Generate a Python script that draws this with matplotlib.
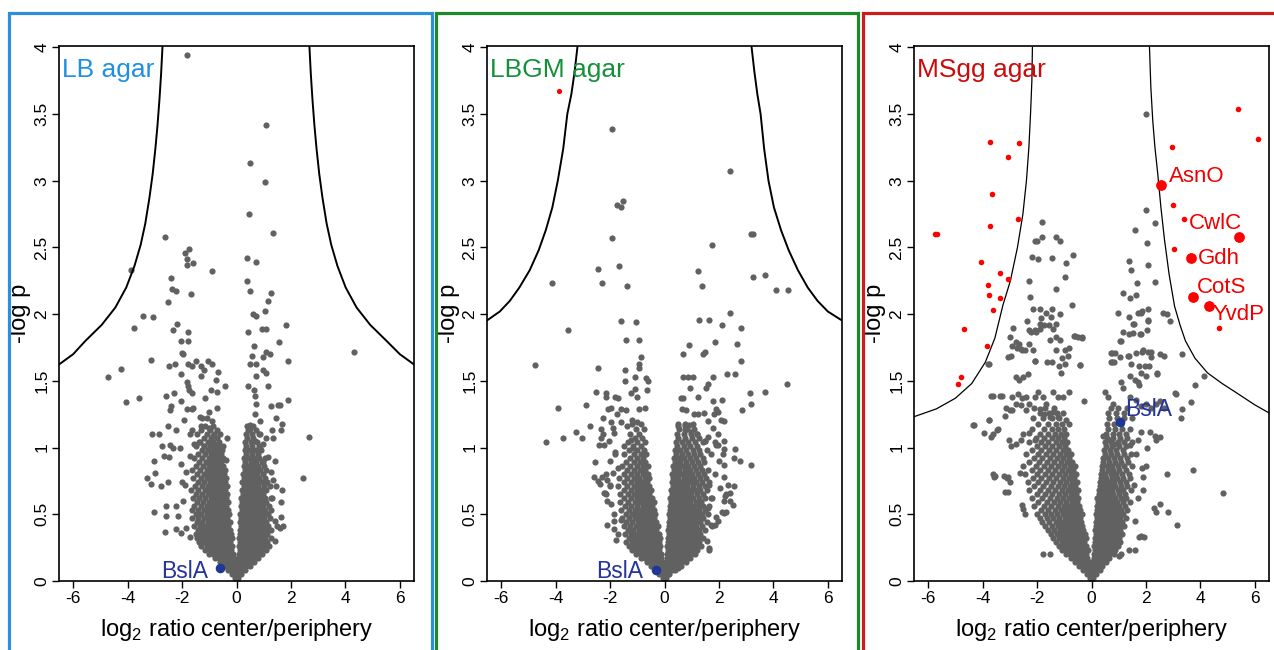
import numpy as np
import matplotlib
matplotlib.use("Agg")
import matplotlib.pyplot as plt
from matplotlib.patches import Rectangle

plt.rcParams['font.family'] = ['Liberation Sans', 'DejaVu Sans']
plt.rcParams['mathtext.fontset'] = 'custom'
plt.rcParams['mathtext.rm'] = 'Liberation Sans'
plt.rcParams['axes.unicode_minus'] = False

## panel settings
titles = ['LB agar', 'LBGM agar', 'MSgg agar']
title_colors = ['#1f8fe0', '#15903a', '#cc0a0a']
border_colors = ['#2e8ed8', '#1c8a2a', '#cc1b1b']

x_ticks = [-6, -4, -2, 0, 2, 4, 6]
y_ticks = [0, 0.5, 1, 1.5, 2, 2.5, 3, 3.5, 4]
y_tick_labels = ['0', '0.5', '1', '1.5', '2', '2.5', '3', '3.5', '4']

## significance curves (x, -log p)
lb_curve_y = [4.00, 3.80, 3.61, 3.42, 3.24, 3.05, 2.87, 2.68, 2.52, 2.36, 2.20, 2.05, 1.92, 1.80, 1.70, 1.62]
lb_left_x = [-2.72, -2.77, -2.83, -2.90, -2.98, -3.08, -3.20, -3.35, -3.52, -3.75, -4.05, -4.45, -4.95, -5.55, -6.00, -6.54]
lb_right_x = [2.68, 2.73, 2.79, 2.86, 2.94, 3.04, 3.16, 3.31, 3.48, 3.71, 4.01, 4.41, 4.91, 5.51, 6.00, 6.54]

lbgm_curve_y = [4.00, 3.82, 3.65, 3.50, 3.24, 3.00, 2.80, 2.63, 2.48, 2.33, 2.20, 2.10, 2.02, 1.95]
lbgm_left_x = [-3.20, -3.30, -3.42, -3.57, -3.72, -3.92, -4.12, -4.36, -4.62, -4.95, -5.33, -5.68, -6.05, -6.54]
lbgm_right_x = [3.20, 3.30, 3.41, 3.53, 3.66, 3.82, 4.02, 4.28, 4.56, 4.90, 5.26, 5.62, 6.00, 6.54]

msgg_left_x = [-2.17, -2.19, -2.24, -2.30, -2.39, -2.52, -2.72, -2.98, -3.25, -3.55, -3.90, -4.40, -5.00, -5.70, -6.54]
msgg_left_y = [4.00, 3.75, 3.50, 3.25, 3.00, 2.75, 2.50, 2.25, 2.07, 1.82, 1.64, 1.48, 1.37, 1.29, 1.23]
msgg_right_x = [2.13, 2.18, 2.25, 2.33, 2.43, 2.55, 2.68, 2.85, 3.05, 3.25, 3.45, 3.80, 4.26, 4.80, 5.33, 6.00, 6.52]
msgg_right_y = [4.00, 3.70, 3.45, 3.25, 3.06, 2.80, 2.56, 2.30, 2.06, 1.92, 1.80, 1.67, 1.56, 1.48, 1.41, 1.32, 1.26]

## LB agar proteins: scattered ones
lb_pts = [(-1.81,3.94),(1.09,3.42),(0.50,3.13),(1.05,2.99),(0.45,2.75),(1.34,2.61),(-2.62,2.58),(-1.74,2.49),
    (-1.91,2.46),(-1.81,2.41),(-1.81,2.37),(-1.58,2.38),(-0.89,2.32),(-3.87,2.33),(0.40,2.42),(0.71,2.39),
    (-2.41,2.27),(0.40,2.25),(-2.36,2.19),(-2.22,2.17),(-1.67,2.15),(0.50,2.17),(1.25,2.16),(1.16,2.10),
    (-2.52,2.09),(1.05,2.02),(0.60,2.00),(0.70,1.99),(-3.42,1.99),(-3.08,1.98),(-2.17,1.93),(1.80,1.92),
    (-3.76,1.90),(-2.32,1.88),(-1.79,1.87),(0.42,1.87),(0.92,1.89),(1.07,1.89),(4.30,1.72),(-2.05,1.80),
    (-1.79,1.80),(1.56,1.79),(0.63,1.76),(-2.02,1.71),(-1.97,1.70),(0.56,1.69),(1.09,1.72),(1.24,1.70),
    (0.97,1.68),(-3.13,1.66),(1.90,1.65),(-2.27,1.63),(-1.78,1.63),(-1.48,1.65),(-1.05,1.65),(-0.89,1.63),
    (0.50,1.63),(0.71,1.63),(-2.47,1.61),(-1.63,1.61),(-1.31,1.61),(-4.23,1.59),(-1.20,1.58),(-0.69,1.57),
    (0.97,1.58),(1.09,1.56),(-4.72,1.53),(-2.03,1.55),(-1.32,1.54),(0.70,1.54),(-1.81,1.49),(-0.75,1.51),
    (-1.78,1.46),(-0.43,1.46),(0.43,1.46),(1.16,1.46),(-1.75,1.43),(-0.92,1.43),(-0.71,1.42),(0.64,1.43),
    (-2.28,1.41),(-1.65,1.41),(0.69,1.39),(-2.58,1.39),(-1.16,1.37),(-4.07,1.34),(-3.59,1.37),(-2.03,1.35),
    (0.72,1.33),(1.91,1.36),(-2.39,1.31),(-1.58,1.30),(-0.71,1.30),(1.27,1.31),(1.53,1.32),(1.61,1.32),
    (-2.44,1.28),(-1.82,1.29),(-1.65,1.29),(-1.00,1.27),(0.67,1.25),(-1.35,1.23),(-1.27,1.22),(-1.92,1.21),
    (-1.10,1.22),(-0.89,1.20),(0.85,1.20),(1.46,1.22),(1.67,1.18),(-2.50,1.16),(-1.31,1.16),(-1.00,1.15),
    (0.48,1.17),(0.50,1.14),(-2.22,1.13),(-1.62,1.13),(1.30,1.13),(1.65,1.13),(-3.10,1.10),(-2.83,1.10),
    (-1.72,1.10),(-0.85,1.09),(0.82,1.10),(1.35,1.07),(1.09,1.07),(-0.34,1.07),(2.66,1.08),(-2.46,1.02),
    (-1.55,1.03),(-1.36,1.04),(-1.21,1.01),(-0.85,1.03),(-0.68,1.03),(-0.49,1.01),(0.67,1.05),(0.97,1.03),
    (-2.74,1.01),(-2.35,1.00),(-2.09,1.00),(0.36,0.99),(0.61,0.98),(0.85,0.99),(-2.68,0.94),(-2.48,0.93),
    (-1.72,0.94),(1.16,0.93),(1.40,0.90),(-3.04,0.90),(-0.38,0.91),(0.97,0.89),(-2.98,0.81),(-3.27,0.77),
    (2.44,0.77),(-3.13,0.73),(-2.78,0.71),(-2.52,0.74),(-2.00,0.74),(-1.90,0.72),(1.34,0.76),(1.44,0.71),
    (1.68,0.68),(1.64,0.59),(-3.04,0.52),(-2.60,0.56),(-2.21,0.56),(-2.60,0.49),(-2.15,0.49),(-2.61,0.37),
    (-2.22,0.39),(-2.03,0.36),(-1.87,0.40),(1.61,0.40),(1.70,0.41),(1.40,0.45),(1.62,0.48),(-1.70,0.33),
    (-1.40,0.32),(1.40,0.30),(1.50,0.41),(-1.95,0.60),(-1.85,0.82),(-2.05,0.88),(1.30,0.62),(1.25,0.82)]

## LB agar proteins: dense core, one row per -log p level
lb_rows = [
    (0.02, [-0.06, 0.06]),
    (0.05, [-0.18, -0.06, 0.06, 0.18]),
    (0.08, [-0.3, -0.18, -0.06, 0.06, 0.18, 0.3]),
    (0.11, [-0.42, -0.28, -0.15, -0.02, 0.1, 0.22, 0.35, 0.48]),
    (0.14, [-0.6, -0.46, -0.32, -0.18, -0.05, 0.08, 0.22, 0.36, 0.5, 0.64]),
    (0.17, [-0.8, -0.65, -0.5, -0.36, -0.22, -0.08, 0.08, 0.22, 0.36, 0.5, 0.65, 0.8]),
    (0.20, [-1.0, -0.85, -0.7, -0.55, -0.4, -0.26, -0.12, 0.1, 0.24, 0.38, 0.52, 0.66, 0.8, 0.95]),
    (0.23, [-1.15, -0.98, -0.82, -0.66, -0.5, -0.35, -0.2, 0.12, 0.28, 0.44, 0.6, 0.75, 0.9, 1.08]),
    (0.26, [-1.3, -1.1, -0.92, -0.76, -0.6, -0.45, -0.3, -0.15, 0.1, 0.25, 0.4, 0.55, 0.7, 0.86, 1.02, 1.2]),
    (0.29, [-1.38, -1.2, -1.02, -0.86, -0.7, -0.55, -0.4, -0.24, 0.14, 0.3, 0.46, 0.62, 0.78, 0.94, 1.12]),
    (0.32, [-1.45, -1.28, -1.1, -0.94, -0.78, -0.62, -0.46, -0.3, -0.16, 0.1, 0.24, 0.4, 0.56, 0.72, 0.88, 1.05, 1.25]),
    (0.35, [-1.5, -1.32, -1.15, -0.98, -0.82, -0.66, -0.5, -0.34, -0.2, 0.14, 0.3, 0.46, 0.62, 0.78, 0.95, 1.12]),
    (0.38, [-1.4, -1.22, -1.05, -0.88, -0.72, -0.56, -0.4, -0.25, 0.12, 0.26, 0.42, 0.58, 0.74, 0.9, 1.08, 1.28]),
    (0.41, [-1.55, -1.35, -1.16, -0.98, -0.8, -0.62, -0.46, -0.3, 0.16, 0.32, 0.48, 0.64, 0.8, 0.98, 1.15]),
    (0.44, [-1.45, -1.25, -1.06, -0.9, -0.72, -0.55, -0.38, -0.24, 0.12, 0.28, 0.44, 0.6, 0.76, 0.92, 1.1]),
    (0.47, [-1.62, -1.4, -1.2, -1.02, -0.84, -0.66, -0.5, -0.34, 0.18, 0.34, 0.5, 0.66, 0.84, 1.02, 1.22]),
    (0.50, [-1.5, -1.3, -1.1, -0.92, -0.74, -0.58, -0.42, -0.28, 0.14, 0.28, 0.44, 0.6, 0.78, 0.96, 1.14]),
    (0.53, [-1.65, -1.42, -1.2, -1.0, -0.82, -0.65, -0.48, -0.32, 0.2, 0.36, 0.52, 0.7, 0.88, 1.06, 1.28]),
    (0.56, [-1.55, -1.32, -1.1, -0.92, -0.74, -0.56, -0.38, 0.16, 0.3, 0.46, 0.62, 0.8, 0.98, 1.18]),
    (0.59, [-1.45, -1.22, -1.02, -0.84, -0.66, -0.48, -0.32, 0.22, 0.38, 0.56, 0.74, 0.92, 1.1]),
    (0.62, [-1.6, -1.36, -1.14, -0.94, -0.76, -0.58, -0.4, 0.18, 0.32, 0.5, 0.68, 0.86, 1.05, 1.25]),
    (0.65, [-1.48, -1.26, -1.05, -0.86, -0.68, -0.5, -0.34, 0.24, 0.42, 0.6, 0.78, 0.96]),
    (0.68, [-1.68, -1.4, -1.16, -0.96, -0.78, -0.6, -0.42, 0.2, 0.36, 0.54, 0.72, 0.9, 1.1]),
    (0.71, [-1.52, -1.28, -1.06, -0.88, -0.7, -0.52, -0.36, 0.26, 0.44, 0.62, 0.8, 1.0, 1.22]),
    (0.74, [-1.4, -1.18, -0.98, -0.8, -0.62, -0.44, 0.22, 0.38, 0.56, 0.74, 0.92, 1.12]),
    (0.77, [-1.6, -1.3, -1.08, -0.9, -0.72, -0.54, -0.38, 0.28, 0.46, 0.64, 0.84, 1.04]),
    (0.80, [-1.45, -1.2, -1.0, -0.82, -0.64, -0.46, 0.24, 0.4, 0.58, 0.76, 0.96]),
    (0.83, [-1.62, -1.34, -1.1, -0.9, -0.72, -0.54, -0.42, 0.3, 0.5, 0.68, 0.88, 1.1]),
    (0.86, [-1.48, -1.22, -1.0, -0.82, -0.64, -0.48, 0.26, 0.42, 0.6, 0.8, 1.0]),
    (0.89, [-1.36, -1.12, -0.92, -0.74, -0.56, 0.32, 0.52, 0.72, 0.92]),
    (0.92, [-1.55, -1.26, -1.02, -0.84, -0.66, -0.5, 0.28, 0.46, 0.64, 0.84, 1.06]),
    (0.95, [-1.4, -1.14, -0.94, -0.76, -0.58, 0.34, 0.56, 0.78]),
    (0.98, [-1.28, -1.04, -0.86, -0.68, -0.52, 0.3, 0.5, 0.7, 0.9]),
    (1.01, [-1.5, -1.18, -0.96, -0.78, -0.6, 0.36, 0.58, 0.82]),
    (1.04, [-1.35, -1.06, -0.86, -0.66, 0.32, 0.52, 0.74]),
    (1.07, [-1.2, -0.95, -0.72, 0.4, 0.62]),
    (1.10, [-1.45, -1.08, -0.82, -0.62, 0.34, 0.56, 0.86]),
    (1.13, [-1.3, -0.98, -0.7, 0.44, 0.7]),
    (1.16, [-1.15, -0.86, 0.38, 0.6]),
]

## LBGM agar proteins
lbgm_pts = [(-1.92,3.39),(2.40,3.07),(-1.76,2.82),(-1.52,2.85),(-1.59,2.80),(-1.92,2.57),(1.75,2.52),(3.19,2.60),
    (3.26,2.60),(-1.68,2.36),(-2.45,2.34),(1.24,2.32),(-4.14,2.23),(-2.30,2.23),(-1.36,2.21),(1.39,2.21),
    (3.25,2.28),(3.68,2.29),(4.11,2.18),(4.55,2.18),(-1.61,1.95),(-1.04,1.94),(1.26,1.96),(1.62,1.96),
    (2.40,2.01),(2.10,1.92),(2.82,1.90),(-3.53,1.88),(-1.43,1.81),(-0.92,1.81),(0.89,1.77),(1.84,1.79),
    (2.68,1.78),(-4.77,1.62),(-2.44,1.60),(-0.87,1.68),(-0.93,1.63),(-0.95,1.60),(0.69,1.70),(1.41,1.70),
    (1.48,1.72),(2.82,1.65),(-1.45,1.58),(-1.08,1.53),(-0.67,1.52),(-0.59,1.50),(0.67,1.53),(0.85,1.53),
    (1.03,1.53),(1.79,1.53),(2.28,1.55),(2.59,1.55),(4.49,1.48),(-1.46,1.50),(-1.09,1.44),(-0.64,1.43),
    (0.93,1.45),(1.53,1.45),(1.58,1.48),(-2.53,1.42),(-2.14,1.41),(-1.23,1.41),(3.14,1.41),(3.70,1.42),
    (0.59,1.37),(0.69,1.37),(1.79,1.35),(-2.14,1.38),(-1.80,1.38),(-1.69,1.37),(-1.01,1.38),(1.22,1.38),
    (2.12,1.36),(-2.89,1.32),(3.19,1.33),(-3.92,1.30),(-2.08,1.29),(-1.58,1.29),(-1.42,1.28),(-0.95,1.29),
    (-0.72,1.30),(0.64,1.29),(0.79,1.28),(1.08,1.25),(1.24,1.25),(1.45,1.26),(1.89,1.29),(1.96,1.27),
    (2.86,1.28),(-2.26,1.22),(-1.18,1.21),(-1.01,1.19),(0.91,1.17),(0.76,1.16),(2.07,1.21),(2.17,1.20),
    (-2.72,1.16),(-2.35,1.14),(-1.98,1.19),(-1.61,1.19),(-1.36,1.16),(-3.26,1.12),(-3.03,1.07),(-3.71,1.07),
    (-4.36,1.04),(-2.33,1.07),(-2.23,1.02),(-1.86,1.11),(-1.80,0.97),(-1.49,1.01),(-1.24,1.06),(-1.17,1.00),
    (0.49,1.16),(0.74,1.13),(0.98,1.12),(1.20,1.10),(1.47,1.05),(1.60,1.08),(1.84,1.04),(1.96,1.02),
    (2.18,1.05),(2.59,0.99),(2.19,0.99),(-2.55,0.89),(2.79,0.90),(3.19,0.87),(2.54,0.92),(2.19,0.87),
    (-2.38,0.73),(-2.11,0.76),(-1.91,0.81),(-2.24,0.66),(-2.02,0.71),(-2.16,0.65),(2.54,0.71),(2.42,0.66),
    (2.23,0.64),(2.17,0.60),(2.52,0.57),(2.18,0.51),(2.26,0.52),(1.97,0.45),(1.85,0.42),(1.75,0.41),
    (-2.11,0.42),(-1.84,0.39),(-1.79,0.31),(-1.60,0.46),(1.63,0.23),(0.49,0.10),(0.75,0.18),(0.90,0.18),
    (1.60,0.55),(1.75,0.62),(1.90,0.48),(2.05,0.70),(1.85,0.80),(2.00,0.90),(1.70,0.95),(1.95,1.10),
    (2.20,0.78),(1.60,1.20),(1.80,1.25),(2.25,0.65),(2.40,0.60),(1.72,0.42),(1.55,0.30),(1.65,0.25),
    (2.10,0.52),(1.88,1.02),(1.50,1.05),(2.35,0.72),(1.62,0.72),(2.15,0.95),(1.78,1.15),
    (-2.30,0.78),(-2.15,0.80),(-2.45,0.75),(-2.20,0.66),(-2.00,0.72),(-1.95,0.58),(-2.10,0.60),(-1.85,0.50),
    (-2.05,1.05),(-2.25,1.10),(-2.40,1.02),(-1.90,1.15),(-1.80,0.95),(-2.00,0.90),(-1.75,1.25),(-1.95,1.30),
    (-1.70,0.85),(-2.60,0.78),(-1.85,0.45),(-1.70,0.35)]

lbgm_rows = [
    (0.02, [-0.06, 0.06]),
    (0.05, [-0.2, -0.08, 0.04, 0.16]),
    (0.08, [-0.32, -0.2, -0.08, 0.04, 0.16, 0.28, 0.4]),
    (0.11, [-0.5, -0.36, -0.22, -0.1, 0.04, 0.18, 0.32, 0.46, 0.6]),
    (0.14, [-0.66, -0.5, -0.36, -0.22, -0.08, 0.06, 0.2, 0.34, 0.48, 0.62, 0.78]),
    (0.17, [-0.85, -0.7, -0.55, -0.4, -0.26, -0.12, 0.08, 0.22, 0.36, 0.5, 0.65, 0.8, 0.95]),
    (0.20, [-1.05, -0.88, -0.72, -0.56, -0.42, -0.28, -0.14, 0.1, 0.24, 0.38, 0.52, 0.66, 0.8, 0.96, 1.12]),
    (0.23, [-1.2, -1.0, -0.84, -0.68, -0.52, -0.38, -0.22, 0.12, 0.26, 0.4, 0.55, 0.7, 0.86, 1.02, 1.2]),
    (0.26, [-1.3, -1.12, -0.95, -0.78, -0.62, -0.46, -0.3, -0.15, 0.1, 0.24, 0.38, 0.52, 0.68, 0.84, 1.0, 1.16, 1.35]),
    (0.29, [-1.4, -1.2, -1.02, -0.86, -0.7, -0.54, -0.38, -0.22, 0.14, 0.28, 0.44, 0.6, 0.76, 0.92, 1.08, 1.26]),
    (0.32, [-1.32, -1.12, -0.94, -0.78, -0.62, -0.46, -0.3, -0.16, 0.12, 0.26, 0.42, 0.58, 0.74, 0.9, 1.06, 1.22, 1.42]),
    (0.35, [-1.45, -1.24, -1.04, -0.86, -0.7, -0.54, -0.38, -0.22, 0.16, 0.3, 0.46, 0.62, 0.78, 0.95, 1.12, 1.3]),
    (0.38, [-1.35, -1.14, -0.95, -0.78, -0.62, -0.46, -0.3, 0.14, 0.28, 0.44, 0.6, 0.76, 0.92, 1.1, 1.28, 1.5]),
    (0.41, [-1.5, -1.26, -1.06, -0.88, -0.7, -0.54, -0.38, -0.24, 0.18, 0.34, 0.5, 0.66, 0.82, 0.98, 1.16, 1.36]),
    (0.44, [-1.4, -1.18, -0.98, -0.8, -0.62, -0.46, -0.32, 0.16, 0.3, 0.46, 0.62, 0.78, 0.95, 1.12, 1.3, 1.55]),
    (0.47, [-1.55, -1.3, -1.08, -0.9, -0.72, -0.55, -0.38, 0.2, 0.36, 0.52, 0.68, 0.86, 1.04, 1.22, 1.42]),
    (0.50, [-1.42, -1.2, -1.0, -0.82, -0.64, -0.48, -0.34, 0.18, 0.32, 0.48, 0.65, 0.82, 1.0, 1.18, 1.36, 1.6]),
    (0.53, [-1.6, -1.32, -1.1, -0.9, -0.72, -0.55, -0.4, 0.22, 0.38, 0.55, 0.72, 0.9, 1.08, 1.28, 1.5]),
    (0.56, [-1.45, -1.22, -1.0, -0.8, -0.62, -0.45, 0.2, 0.34, 0.5, 0.68, 0.86, 1.04, 1.22, 1.42, 1.65]),
    (0.59, [-1.65, -1.34, -1.1, -0.9, -0.72, -0.54, -0.4, 0.24, 0.4, 0.58, 0.76, 0.94, 1.14, 1.35]),
    (0.62, [-1.48, -1.22, -1.0, -0.82, -0.64, -0.46, 0.22, 0.36, 0.52, 0.7, 0.88, 1.06, 1.26, 1.48, 1.72]),
    (0.65, [-1.62, -1.35, -1.12, -0.92, -0.74, -0.56, 0.26, 0.44, 0.62, 0.8, 0.98, 1.18, 1.4]),
    (0.68, [-1.48, -1.24, -1.02, -0.82, -0.64, -0.48, 0.24, 0.4, 0.56, 0.74, 0.92, 1.12, 1.32, 1.55]),
    (0.71, [-1.7, -1.36, -1.12, -0.92, -0.74, -0.56, 0.3, 0.48, 0.66, 0.84, 1.04, 1.25, 1.48]),
    (0.74, [-1.5, -1.24, -1.02, -0.82, -0.64, 0.26, 0.42, 0.6, 0.78, 0.96, 1.16, 1.38, 1.62]),
    (0.77, [-1.66, -1.36, -1.12, -0.92, -0.72, -0.56, 0.32, 0.5, 0.7, 0.9, 1.1, 1.3, 1.52]),
    (0.80, [-1.5, -1.24, -1.0, -0.8, -0.62, 0.28, 0.46, 0.64, 0.82, 1.02, 1.22, 1.44]),
    (0.83, [-1.38, -1.12, -0.9, -0.7, 0.34, 0.54, 0.74, 0.94, 1.14, 1.36, 1.6]),
    (0.86, [-1.55, -1.26, -1.0, -0.8, -0.62, 0.3, 0.48, 0.68, 0.88, 1.08, 1.3]),
    (0.89, [-1.4, -1.12, -0.9, -0.7, 0.38, 0.58, 0.8, 1.0, 1.22, 1.46]),
    (0.92, [-1.25, -1.0, -0.78, 0.34, 0.52, 0.72, 0.94, 1.16, 1.4]),
    (0.95, [-1.5, -1.12, -0.88, -0.68, 0.42, 0.64, 0.86, 1.08, 1.32]),
    (0.98, [-1.3, -1.0, -0.76, 0.38, 0.58, 0.8, 1.04, 1.26, 1.55]),
    (1.01, [-1.15, -0.88, 0.46, 0.7, 0.94, 1.18]),
    (1.04, [-1.35, -1.0, -0.72, 0.42, 0.64, 0.88, 1.12, 1.4]),
    (1.07, [-1.1, -0.82, 0.5, 0.76, 1.0, 1.26]),
    (1.10, [-1.25, -0.94, 0.46, 0.7, 0.96, 1.2]),
    (1.14, [-1.05, -0.75, 0.55, 0.82, 1.1]),
    (1.18, [-1.2, -0.86, 0.5, 0.76, 1.04]),
]
lbgm_red = [(-3.86, 3.67)]

## MSgg agar proteins
msgg_pts = [(1.99,3.50),(2.00,2.78),(2.35,2.68),(1.58,2.63),(2.03,2.53),(1.36,2.40),(1.45,2.33),(2.08,2.37),
    (1.66,2.23),(2.35,2.24),(1.14,2.16),(1.41,2.12),(1.62,2.14),(0.97,2.01),(1.36,1.98),(1.83,2.01),
    (2.07,2.04),(2.62,2.01),(2.77,2.00),(2.88,1.95),(2.07,1.95),(1.56,1.93),(-1.81,2.69),(-2.08,2.55),
    (-1.99,2.55),(-1.81,2.58),(-1.31,2.58),(-1.15,2.55),(-2.18,2.43),(-1.96,2.41),(-1.44,2.42),(-0.69,2.44),
    (-0.92,2.38),(-0.98,2.28),(-2.30,2.25),(-2.27,2.13),(-1.29,2.19),(-2.14,2.04),(-1.91,2.04),(-1.68,2.01),
    (-1.45,2.04),(-1.15,2.00),(-0.71,2.07),(-1.85,1.97),(-1.50,1.98),(-1.31,1.93),(-1.43,1.89),(-1.55,1.92),
    (-2.90,1.90),(-2.28,1.88),(-2.09,1.88),(-1.91,1.93),(-1.73,1.92),(-2.38,1.95),(-0.65,1.84),(-0.49,1.83),
    (-0.34,1.83),(-2.79,1.79),(-2.58,1.74),(-2.44,1.73),(-2.31,1.78),(-2.15,1.73),(-2.95,1.69),(-2.08,1.65),
    (-1.64,1.64),(-1.44,1.64),(-1.30,1.73),(-1.10,1.67),(-0.85,1.69),(-0.99,1.63),(-0.41,1.62),(0.70,1.71),
    (0.85,1.71),(1.09,1.80),(1.80,1.85),(1.34,1.69),(1.85,1.72),(2.19,1.72),(2.50,1.70),(0.74,1.64),
    (1.44,1.63),(1.74,1.61),(1.81,1.56),(1.96,1.61),(3.32,1.70),(4.15,1.54),(3.81,1.47),(3.09,1.40),
    (3.66,1.34),(3.33,1.29),(3.27,1.22),(2.41,1.55),(2.66,1.30),(2.50,1.35),(2.16,1.12),(2.34,1.09),
    (3.74,0.83),(2.78,0.80),(4.83,0.66),(2.81,0.52),(3.15,0.42),(2.30,0.55),(2.52,0.58),(2.36,0.52),
    (1.85,0.85),(2.00,0.86),(1.90,0.78),(1.90,0.68),(-4.33,1.17),(-3.95,1.11),(-3.78,1.21),(-3.79,1.63),
    (-3.68,1.39),(-3.35,1.39),(-3.68,1.08),(-3.47,1.13),(-3.62,0.80),(-3.58,0.78),(-3.20,0.79),(-3.12,0.77),
    (-3.17,0.67),(-3.01,1.28),(-3.13,1.30),(-3.19,1.24),(-2.63,0.81),(-2.57,0.57),(-2.51,0.54),(-2.45,0.50),
    (-1.79,0.20),(-1.52,0.20),(1.00,0.19),(1.10,0.20),(1.36,0.23),(1.58,0.23),(1.83,0.34),(1.92,0.33),
    (1.75,0.33),(-3.01,1.83),(-2.92,1.76),(-2.75,1.75),(-2.65,1.78),(-2.55,1.73),(-2.22,1.87),(-2.03,1.87),
    (-1.89,1.89),(-1.54,1.81),(-1.30,1.83),(-1.15,1.81),(-0.96,1.73),(-0.83,1.75),(-0.59,1.84),(-0.34,1.82),
    (-3.06,1.68),(-2.06,1.65),(-1.18,1.61),(-1.12,1.56),(-0.44,1.62),(-3.77,1.63),(-2.77,1.53),(-2.65,1.51),
    (-2.50,1.53),(-2.34,1.55),(-2.92,1.38),(-2.71,1.40),(-2.55,1.37),(-2.40,1.38),(-2.09,1.38),(-1.97,1.42),
    (-1.79,1.38),(-1.67,1.33),(-1.40,1.42),(-1.24,1.38),(-1.05,1.38),(-0.81,1.42),(-0.29,1.35),(-3.60,1.39),
    (-3.28,1.39),(-3.77,1.21),(-3.44,1.14),(-3.60,1.10),(-4.34,1.17),(-2.92,1.28),(-2.77,1.33),(-2.59,1.32),
    (-2.40,1.28),(-2.28,1.33),(-1.91,1.29),(-1.73,1.25),(-1.54,1.23),(-1.42,1.27),(-1.24,1.23),(-1.05,1.26),
    (-0.93,1.21),(-0.81,1.18),(-3.04,1.06),(-2.95,1.01),(-2.77,1.03),(-2.59,1.06),(-2.28,1.11),(-2.09,1.06),
    (-3.56,0.79),(-3.07,0.78),(-3.01,0.74),(-3.07,0.67),(1.52,1.93),(1.70,2.01),(1.85,2.02),(2.07,1.96),
    (1.05,1.80),(1.15,1.87),(1.37,1.85),(1.54,1.86),(1.79,1.85),(2.03,1.88),(1.88,1.73),(2.07,1.72),
    (2.19,1.68),(0.76,1.71),(0.84,1.64),(1.05,1.68),(1.37,1.69),(1.62,1.71),(2.68,1.69),(0.73,1.64),
    (1.09,1.49),(1.15,1.45),(1.40,1.54),(1.58,1.51),(1.70,1.49),(1.76,1.47),(2.01,1.54),(2.13,1.61),
    (2.40,1.56),(3.05,1.41),(0.51,1.42),(0.60,1.38),(0.78,1.33),(1.40,1.38),(1.64,1.36),(1.83,1.31),
    (2.01,1.33),(2.19,1.30),(2.38,1.33),(2.50,1.08),(2.38,1.06),(0.42,1.09),(0.66,1.06),(0.84,1.03),
    (1.40,1.02),(1.70,1.06),(1.65,0.95),(1.80,1.12),(2.05,1.00),(1.55,0.72),(1.72,0.62),(1.60,0.45)]

msgg_rows = [
    (0.02, [-0.06, 0.06]),
    (0.05, [-0.18, -0.06, 0.06, 0.18]),
    (0.08, [-0.3, -0.18, -0.06, 0.06, 0.18, 0.3]),
    (0.11, [-0.45, -0.3, -0.16, -0.03, 0.1, 0.24, 0.38]),
    (0.14, [-0.6, -0.45, -0.3, -0.16, -0.02, 0.12, 0.26, 0.4, 0.55]),
    (0.17, [-0.75, -0.6, -0.45, -0.3, -0.15, 0.08, 0.22, 0.36, 0.5, 0.65]),
    (0.20, [-0.95, -0.8, -0.64, -0.48, -0.34, -0.2, 0.1, 0.24, 0.38, 0.52, 0.66, 0.82]),
    (0.23, [-1.1, -0.92, -0.76, -0.6, -0.44, -0.28, -0.14, 0.12, 0.26, 0.4, 0.55, 0.7, 0.86]),
    (0.26, [-1.2, -1.02, -0.85, -0.68, -0.52, -0.36, -0.2, 0.1, 0.24, 0.38, 0.52, 0.66, 0.82, 0.98]),
    (0.29, [-1.3, -1.1, -0.92, -0.75, -0.58, -0.42, -0.27, 0.14, 0.28, 0.43, 0.58, 0.74, 0.9, 1.06]),
    (0.32, [-1.4, -1.2, -1.02, -0.84, -0.66, -0.5, -0.34, -0.2, 0.12, 0.26, 0.4, 0.55, 0.7, 0.86, 1.02]),
    (0.35, [-1.5, -1.28, -1.08, -0.9, -0.72, -0.55, -0.4, -0.25, 0.16, 0.3, 0.46, 0.62, 0.78, 0.95, 1.12]),
    (0.38, [-1.6, -1.38, -1.16, -0.98, -0.8, -0.62, -0.46, -0.3, 0.14, 0.28, 0.42, 0.58, 0.74, 0.9, 1.06]),
    (0.41, [-1.7, -1.45, -1.24, -1.04, -0.86, -0.68, -0.5, -0.34, 0.18, 0.34, 0.5, 0.66, 0.82, 1.0, 1.2]),
    (0.44, [-1.82, -1.55, -1.32, -1.12, -0.92, -0.74, -0.56, -0.38, 0.16, 0.3, 0.46, 0.62, 0.78, 0.95, 1.12]),
    (0.47, [-1.9, -1.64, -1.4, -1.18, -0.98, -0.8, -0.62, -0.44, 0.2, 0.36, 0.52, 0.68, 0.86, 1.04, 1.25]),
    (0.50, [-2.0, -1.72, -1.48, -1.26, -1.06, -0.86, -0.68, -0.5, -0.36, 0.18, 0.32, 0.48, 0.64, 0.8, 0.98, 1.16]),
    (0.53, [-1.85, -1.58, -1.34, -1.12, -0.92, -0.74, -0.56, -0.42, 0.22, 0.38, 0.55, 0.72, 0.9, 1.1, 1.32]),
    (0.56, [-2.1, -1.76, -1.48, -1.24, -1.02, -0.82, -0.64, -0.46, 0.2, 0.34, 0.5, 0.66, 0.84, 1.02, 1.22]),
    (0.59, [-1.95, -1.64, -1.38, -1.14, -0.92, -0.72, -0.54, 0.24, 0.4, 0.58, 0.76, 0.94, 1.14, 1.4]),
    (0.62, [-2.2, -1.82, -1.54, -1.28, -1.06, -0.84, -0.64, -0.48, 0.22, 0.36, 0.52, 0.7, 0.88, 1.08, 1.28]),
    (0.65, [-2.0, -1.7, -1.44, -1.2, -0.98, -0.76, -0.58, 0.28, 0.44, 0.62, 0.8, 1.0, 1.22]),
    (0.68, [-2.3, -1.9, -1.6, -1.34, -1.1, -0.88, -0.68, -0.5, 0.26, 0.4, 0.58, 0.76, 0.96, 1.16, 1.45]),
    (0.71, [-2.1, -1.78, -1.5, -1.24, -1.0, -0.8, -0.6, 0.32, 0.5, 0.68, 0.88, 1.08, 1.3]),
    (0.74, [-2.35, -1.96, -1.66, -1.4, -1.16, -0.92, -0.72, -0.54, 0.3, 0.46, 0.64, 0.84, 1.04, 1.26]),
    (0.77, [-2.15, -1.84, -1.56, -1.3, -1.06, -0.84, -0.64, 0.36, 0.54, 0.74, 0.94, 1.16, 1.42]),
    (0.80, [-2.45, -2.0, -1.72, -1.46, -1.2, -0.98, -0.76, -0.58, 0.34, 0.5, 0.7, 0.9, 1.12, 1.36]),
    (0.83, [-2.2, -1.88, -1.6, -1.34, -1.1, -0.88, -0.68, 0.4, 0.6, 0.8, 1.02, 1.26]),
    (0.86, [-2.5, -2.05, -1.76, -1.5, -1.24, -1.0, -0.78, -0.6, 0.38, 0.56, 0.76, 0.98, 1.2, 1.5]),
    (0.89, [-2.3, -1.94, -1.64, -1.38, -1.12, -0.9, -0.7, 0.44, 0.66, 0.88, 1.1, 1.34]),
    (0.92, [-2.1, -1.82, -1.54, -1.28, -1.04, -0.82, 0.42, 0.62, 0.84, 1.06, 1.3]),
    (0.95, [-2.4, -1.98, -1.68, -1.4, -1.16, -0.94, -0.74, 0.48, 0.7, 0.94, 1.18, 1.45]),
    (0.98, [-2.2, -1.86, -1.56, -1.3, -1.06, -0.86, 0.46, 0.68, 0.9, 1.14]),
    (1.01, [-2.0, -1.72, -1.44, -1.2, -0.98, 0.52, 0.76, 1.0, 1.26]),
    (1.04, [-2.3, -1.86, -1.58, -1.32, -1.1, -0.9, 0.5, 0.72, 0.96, 1.2, 1.5]),
    (1.07, [-2.05, -1.74, -1.46, -1.22, -1.0, 0.56, 0.8, 1.06, 1.32]),
    (1.10, [-2.5, -1.9, -1.6, -1.34, -1.12, -0.92, 0.54, 0.78, 1.02, 1.28]),
    (1.14, [-2.2, -1.76, -1.46, -1.22, -1.02, 0.6, 0.86, 1.12, 1.4]),
    (1.18, [-1.95, -1.6, -1.32, -1.1, 0.58, 0.84, 1.1]),
    (1.22, [-2.15, -1.78, -1.46, -1.2, 0.64, 0.92, 1.2, 1.5]),
    (1.26, [-1.9, -1.56, -1.28, 0.62, 0.9, 1.18]),
    (1.30, [-2.1, -1.7, -1.38, 0.7, 0.98, 1.3]),
]

msgg_red = [(-5.74,2.60),(-5.66,2.60),(-3.74,3.29),(-2.67,3.28),(-3.08,3.18),(-3.67,2.90),(-3.74,2.66),
    (-2.70,2.71),(-4.07,2.39),(-3.35,2.31),(-3.05,2.26),(-3.79,2.22),(-3.76,2.14),(-3.35,2.12),(-3.61,2.03),
    (-4.67,1.89),(-3.84,1.76),(-4.79,1.53),(-4.89,1.48),(2.94,3.25),(2.98,2.82),(3.03,2.49),(3.41,2.71),
    (5.39,3.54),(6.13,3.31),(4.68,1.90)]
msgg_big_red = [(2.56,2.97),(5.42,2.58),(3.66,2.42),(3.72,2.13),(4.31,2.06)]
msgg_names = ['AsnO', 'CwlC', 'Gdh', 'CotS', 'YvdP']
msgg_name_pos = [(2.83,3.03),(3.58,2.68),(3.90,2.42),(3.86,2.20),(4.45,2.00)]

## BslA in each panel
bsla_pts = [(-0.61, 0.10), (-0.32, 0.08), (1.04, 1.195)]
bsla_label_pos = [(-1.05, 0.02, 'right'), (-0.77, 0.02, 'right'), (1.25, 1.24, 'left')]

GRAY = '#616161'
BLUE = '#1f3796'


def rows_to_xy(pts, rows):
    xs = [p[0] for p in pts]
    ys = [p[1] for p in pts]
    for y, row in rows:
        for x in row:
            xs.append(x)
            ys.append(y)
    return np.array(xs), np.array(ys)


fig = plt.figure(figsize=(12.74, 6.5), dpi=100)

## coloured frames round each panel
frames = [(9, 432), (436, 858), (863, 1290)]
for (l, r), c in zip(frames, border_colors):
    rect = Rectangle((l / 1274, -0.05), (r - l) / 1274, 1.05 - 13 / 650, transform=fig.transFigure,
                     fill=False, edgecolor=c, lw=2.3, clip_on=False)
    fig.add_artist(rect)

lefts = [59 / 1274, 487 / 1274, 914 / 1274]
width = 355 / 1274
bottom = 69 / 650
height = 535 / 650

curves = [
    [(lb_left_x, lb_curve_y), (lb_right_x, lb_curve_y)],
    [(lbgm_left_x, lbgm_curve_y), (lbgm_right_x, lbgm_curve_y)],
    [(msgg_left_x, msgg_left_y), (msgg_right_x, msgg_right_y)],
]
gray_data = [rows_to_xy(lb_pts, lb_rows), rows_to_xy(lbgm_pts, lbgm_rows), rows_to_xy(msgg_pts, msgg_rows)]

for i in range(3):
    ax = fig.add_axes([lefts[i], bottom, width, height])
    gx, gy = gray_data[i]
    ax.scatter(gx, gy, s=20, c=GRAY, linewidths=0, zorder=2)

    for cx, cy in curves[i]:
        ax.plot(cx, cy, color='black', lw=1.4 if i < 2 else 0.9, zorder=3)

    if i == 1:
        ax.scatter([p[0] for p in lbgm_red], [p[1] for p in lbgm_red], s=14, c='#ff0000', linewidths=0, zorder=4)
    if i == 2:
        ax.scatter([p[0] for p in msgg_red], [p[1] for p in msgg_red], s=16, c='#ff0000', linewidths=0, zorder=4)
        ax.scatter([p[0] for p in msgg_big_red], [p[1] for p in msgg_big_red], s=60, c='#ff0000',
                   linewidths=0, zorder=4)
        for name, (tx, ty) in zip(msgg_names, msgg_name_pos):
            ax.text(tx, ty, name, color='#f00000', fontsize=16, ha='left', va='center', zorder=5)

    bx, by = bsla_pts[i]
    ax.scatter([bx], [by], s=48, c=BLUE, linewidths=0, zorder=5)
    lx, ly, ha = bsla_label_pos[i]
    ax.text(lx, ly, 'BslA', color='#24349a', fontsize=16.5, ha=ha, va='baseline', zorder=5)

    ax.text(0.008, 0.978, titles[i], transform=ax.transAxes, color=title_colors[i], fontsize=19,
            ha='left', va='top')

    ax.set_xlim(-6.52, 6.52)
    ax.set_ylim(0, 4.01)
    ax.set_xticks(x_ticks)
    ax.set_xticklabels([str(t) for t in x_ticks])
    ax.set_yticks(y_ticks)
    ax.set_yticklabels(y_tick_labels, rotation=90, va='center')
    ax.tick_params(direction='out', length=5, width=1, labelsize=12.5, pad=2)
    for sp in ax.spines.values():
        sp.set_linewidth(1.2)
    ax.set_xlabel(r'log$_{\mathregular{2}}$ ratio center/periphery', fontsize=17, labelpad=8)
    ax.set_ylabel('-log p', fontsize=17, labelpad=2)

fig.savefig('out.png', dpi=100)
